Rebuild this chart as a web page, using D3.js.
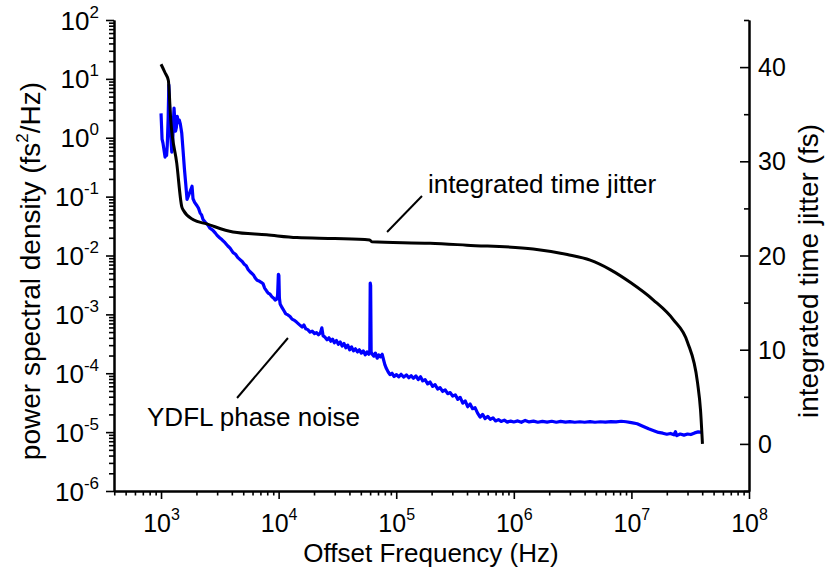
<!DOCTYPE html>
<html>
<head>
<meta charset="utf-8">
<script src="https://cdn.jsdelivr.net/npm/d3@7"></script>
<style>
  html, body { margin: 0; padding: 0; background: #fff; }
  svg { display: block; font-family: "Liberation Sans", Arial, sans-serif; }
  .axis path, .axis line { stroke: #000; }
  .axis path { stroke-width: 2; }
  .axis line { stroke-width: 1.6; }
  .axis text { fill: #000; font-size: 26px; font-family: "Liberation Sans", Arial, sans-serif; }
</style>
</head>
<body>
<div id="chart"></div>
<script>
// PSD of the YDFL (Hz, fs^2/Hz)
const psdFreq = [
  1000, 1010, 1020, 1040, 1060, 1082, 1100, 1115, 1130, 1150, 1165, 1180, 1200, 1216, 1235, 1255,
  1275, 1290, 1310, 1330, 1350, 1375, 1400, 1430, 1460, 1500, 1540, 1580, 1620, 1664, 1700, 1760,
  1835, 1871, 1930, 2023, 2080, 2147, 2210, 2276, 2400, 2500, 2610, 2750, 2900, 2997, 3150, 3304,
  3500, 3700, 3864, 4100, 4300, 4500, 4700, 4900, 5100, 5300, 5500, 5716, 5900, 6100, 6300, 6559,
  6800, 7100, 7380, 7600, 7900, 8140, 8450, 8750, 9050, 9340, 9600, 9800, 9950, 10050, 10150, 10300,
  10700, 11100, 11500, 12000, 12500, 13000, 13500, 14200, 15000, 15850, 16400, 17000, 17700, 18500,
  19300, 20200, 21000, 21800, 22600, 23300, 23900, 24800, 25800, 26800, 27800, 28800, 29800, 31000,
  32200, 33400, 34700, 36000, 37300, 38700, 40200, 41700, 43300, 45000, 46800, 48600, 50500, 52500,
  54500, 56500, 58500, 59600, 60100, 60600, 61200, 62500, 64500, 66500, 68900, 71000, 73500, 76000,
  78000, 80000, 82500, 85500, 88500, 92000, 96000, 100000, 105000, 110000, 116000, 122000, 128000,
  134000, 140000, 147000, 154000, 161000, 168000, 176000, 185000, 194000, 204000, 214000, 225000,
  236000, 248000, 261000, 274000, 288000, 302000, 318000, 334000, 350000, 368000, 386000, 405000,
  425000, 446000, 468000, 492000, 517000, 543000, 570000, 600000, 630000, 665000, 700000, 740000,
  780000, 830000, 880000, 940000, 1.0e6, 1.08e6, 1.16e6, 1.25e6, 1.35e6, 1.47e6, 1.6e6, 1.75e6,
  1.92e6, 2.1e6, 2.3e6, 2.5e6, 2.75e6, 3.0e6, 3.3e6, 3.65e6, 4.0e6, 4.45e6, 4.9e6, 5.45e6, 6.0e6,
  6.7e6, 7.4e6, 8.2e6, 9.0e6, 1.0e7, 1.12e7, 1.25e7, 1.4e7, 1.55e7, 1.7e7, 1.85e7, 2.0e7, 2.15e7,
  2.3e7, 2.37e7, 2.43e7, 2.6e7, 2.8e7, 3.0e7, 3.2e7, 3.45e7, 3.7e7, 4.02e7
];
const psdValue = [
  2.6, 1.6, 0.95, 0.8, 0.62, 0.47, 0.52, 0.5, 0.75, 2.2, 7.9, 3.5, 1.3, 0.9, 0.57, 0.8,
  2.0, 3.2, 1.9, 1.3, 1.5, 2.3, 1.8, 2.0, 1.7, 1.2, 0.6, 0.3, 0.17, 0.09, 0.1, 0.12,
  0.15, 0.092, 0.08, 0.07, 0.064, 0.053, 0.049, 0.041, 0.036, 0.033, 0.029, 0.027, 0.024, 0.022, 0.020, 0.0185,
  0.0165, 0.0145, 0.0133, 0.0112, 0.0105, 0.0092, 0.0085, 0.0079, 0.0071, 0.0067, 0.0058, 0.0053, 0.005, 0.0047, 0.0042, 0.0038,
  0.0037, 0.0035, 0.0033, 0.0028, 0.0025, 0.0023, 0.0022, 0.0020, 0.0019, 0.00175, 0.0018, 0.0021, 0.0048, 0.0046, 0.0019, 0.0015,
  0.0013, 0.00115, 0.00102, 0.00098, 0.00092, 0.00083, 0.0008, 0.00074, 0.00067, 0.00061, 0.00066, 0.00057, 0.00055, 0.0005,
  0.00052, 0.00047, 0.00049, 0.00045, 0.00048, 0.00059, 0.00043, 0.00041, 0.00037, 0.0004, 0.00035, 0.00038, 0.00033, 0.00036,
  0.00031, 0.00034, 0.00029, 0.00032, 0.00027, 0.0003, 0.00025, 0.00028, 0.00024, 0.00026, 0.00023, 0.00025, 0.00022, 0.00024,
  0.000205, 0.00023, 0.00021, 0.00024, 0.0034, 0.0031, 0.00023, 0.00021, 0.000195, 0.00022, 0.00018, 0.000205, 0.00019, 0.00021,
  0.00017, 0.00014, 0.00012, 0.000105, 0.000095, 0.0001, 0.000088, 0.000095, 0.000087, 0.000096, 0.000086, 0.000094, 0.000084,
  0.000091, 0.000082, 0.00009, 0.000078, 0.000087, 0.000074, 0.000078, 0.000066, 0.000071, 0.00006, 0.000064, 0.000054,
  0.000057, 0.000049, 0.000052, 0.000045, 0.000047, 0.000041, 0.000043, 0.000036, 0.000039, 0.000031, 0.000034, 0.000027,
  0.00003, 0.000025, 0.000026, 0.000021, 0.000018, 0.00002, 0.000017, 0.0000185, 0.0000165, 0.0000175, 0.0000155, 0.0000163,
  0.0000152, 0.000016, 0.0000148, 0.0000154, 0.0000149, 0.0000155, 0.0000147, 0.0000158, 0.0000149, 0.0000154, 0.0000147, 0.0000152,
  0.0000148, 0.0000153, 0.0000147, 0.0000152, 0.0000148, 0.0000151, 0.0000147, 0.000015, 0.0000147, 0.0000151, 0.0000147, 0.000015, 0.0000148,
  0.0000151, 0.0000149, 0.0000153, 0.000015, 0.0000145, 0.0000139, 0.0000126, 0.0000114, 0.0000106, 0.0000099, 0.0000096, 0.0000092, 0.0000095,
  0.000009, 0.0000102, 0.0000087, 0.0000093, 0.0000089, 0.0000093, 0.0000091, 0.0000097, 0.0000101, 0.0000099
];

// integrated timing jitter (Hz, fs)
const jitterFreq = [
  1000, 1082, 1153, 1209, 1360, 1500, 1548, 1882, 2446, 4094, 7910, 14300, 30000, 59500, 62000,
  194000, 398000, 1.46e6, 2.85e6, 4.46e6, 6.6e6, 9.9e6, 1.53e7, 2.27e7, 3.0e7, 3.65e7, 3.87e7, 4.02e7
];
const jitterValue = [
  40.3, 39.4, 38.6, 34.4, 29.8, 25.2, 24.8, 23.8, 23.35, 22.5, 22.2, 21.9, 21.8, 21.65, 21.45,
  21.3, 21.1, 20.7, 20.1, 19.5, 18.5, 17.1, 15.3, 13.2, 10.8, 6.5, 3.6, 0
];

const xMajorExp = [3, 4, 5, 6, 7, 8];
const yMajorExp = [2, 1, 0, -1, -2, -3, -4, -5, -6];
const rightMajor = [0, 10, 20, 30, 40];
const rightMinor = [-5, 5, 15, 25, 35, 45];

const width = 829;
const height = 575;
const margin = { top: 20, right: 80, bottom: 84, left: 114 };
const innerWidth = width - margin.left - margin.right;
const innerHeight = height - margin.top - margin.bottom;

const svg = d3.select('#chart')
  .append('svg')
  .attr('width', width)
  .attr('height', height);

const chart = svg.append('g')
  .attr('transform', `translate(${margin.left},${margin.top})`);

const x = d3.scaleLog().domain([Math.pow(10, 2.6), 1e8]).range([0, innerWidth]);
const y = d3.scaleLog().domain([1e-6, 1e2]).range([innerHeight, 0]);
const yRight = d3.scaleLinear().domain([-5, 45]).range([innerHeight, 0]);

function minorTicks(scale) {
  const [lo, hi] = scale.domain();
  const ticks = [];
  for (let e = Math.floor(Math.log10(lo)); e < Math.ceil(Math.log10(hi)); e++) {
    for (let k = 2; k <= 9; k++) {
      const v = k * Math.pow(10, e);
      if (v >= lo * 0.999 && v <= hi * 1.001) ticks.push(v);
    }
  }
  return ticks;
}

function powerLabel(selection, superSize, raise) {
  selection.each(function (d) {
    const t = d3.select(this);
    const exp = Math.round(Math.log10(d));
    t.text(null);
    t.append('tspan').text('10');
    t.append('tspan').attr('dy', -raise).attr('font-size', superSize).text(String(exp));
  });
}

// minor ticks first
chart.append('g')
  .attr('class', 'axis')
  .attr('transform', `translate(0,${innerHeight})`)
  .call(d3.axisBottom(x).tickValues(minorTicks(x)).tickSize(4.5).tickSizeOuter(0).tickFormat(''));

chart.append('g')
  .attr('class', 'axis')
  .call(d3.axisLeft(y).tickValues(minorTicks(y)).tickSize(5).tickSizeOuter(0).tickFormat(''));

chart.append('g')
  .attr('class', 'axis')
  .attr('transform', `translate(${innerWidth},0)`)
  .call(d3.axisRight(yRight).tickValues(rightMinor).tickSize(-5).tickSizeOuter(0).tickFormat(''));

// major ticks
const xAxis = chart.append('g')
  .attr('class', 'axis')
  .attr('transform', `translate(0,${innerHeight})`)
  .call(d3.axisBottom(x).tickValues(xMajorExp.map((e) => Math.pow(10, e))).tickSize(8).tickSizeOuter(0));
xAxis.selectAll('text')
  .attr('y', 41)
  .attr('dy', null)
  .style('font-size', '25px')
  .call(powerLabel, 16, 12);

const yAxis = chart.append('g')
  .attr('class', 'axis')
  .call(d3.axisLeft(y).tickValues(yMajorExp.map((e) => Math.pow(10, e))).tickSize(8).tickSizeOuter(0));
yAxis.selectAll('text')
  .attr('x', -15)
  .attr('dy', 9)
  .call(powerLabel, 17, 12);

chart.append('g')
  .attr('class', 'axis')
  .attr('transform', `translate(${innerWidth},0)`)
  .call(d3.axisRight(yRight).tickValues(rightMajor).tickSize(-9).tickPadding(9).tickSizeOuter(0))
  .selectAll('text')
  .attr('dy', 8.5)
  .style('font-size', '25px');

// curves
const psdRows = psdFreq.map((f, i) => [f, psdValue[i]]);
const jitterRows = jitterFreq.map((f, i) => [f, jitterValue[i]]);

chart.append('path')
  .datum(psdRows)
  .attr('fill', 'none')
  .attr('stroke', '#0000ff')
  .attr('stroke-width', 3.2)
  .attr('stroke-linejoin', 'round')
  .attr('d', d3.line().x((d) => x(d[0])).y((d) => y(d[1])));

chart.append('path')
  .datum(jitterRows)
  .attr('fill', 'none')
  .attr('stroke', '#000')
  .attr('stroke-width', 3)
  .attr('stroke-linejoin', 'round')
  .attr('d', d3.line().curve(d3.curveMonotoneX).x((d) => x(d[0])).y((d) => yRight(d[1])));

// annotations
const jitterNote = { from: [83600, 0.0251], to: [165600, 0.1026], text: [186000, 0.1153], label: 'integrated time jitter' };
const psdNote = { from: [12000, 3.97e-4], to: [4430, 3.8e-5], text: [760, 1.27e-5], label: 'YDFL phase noise' };

[jitterNote, psdNote].forEach((note) => {
  chart.append('line')
    .attr('x1', x(note.from[0]))
    .attr('y1', y(note.from[1]))
    .attr('x2', x(note.to[0]))
    .attr('y2', y(note.to[1]))
    .attr('stroke', '#000')
    .attr('stroke-width', 2);
  chart.append('text')
    .attr('x', x(note.text[0]))
    .attr('y', y(note.text[1]))
    .attr('font-size', 26)
    .attr('fill', '#000')
    .text(note.label);
});

// axis titles
svg.append('text')
  .attr('x', 431)
  .attr('y', 562)
  .attr('text-anchor', 'middle')
  .attr('font-size', 26)
  .text('Offset Frequency (Hz)');

const leftTitle = svg.append('text')
  .attr('transform', 'translate(40,271) rotate(-90)')
  .attr('text-anchor', 'middle')
  .attr('font-size', 28);
leftTitle.append('tspan').text('power spectral density (fs');
leftTitle.append('tspan').attr('dy', -12).attr('font-size', 17).text('2');
leftTitle.append('tspan').attr('dy', 12).text('/Hz)');

svg.append('text')
  .attr('transform', 'translate(818,271) rotate(-90)')
  .attr('text-anchor', 'middle')
  .attr('font-size', 28)
  .text('integrated time jitter (fs)');
</script>
</body>
</html>
